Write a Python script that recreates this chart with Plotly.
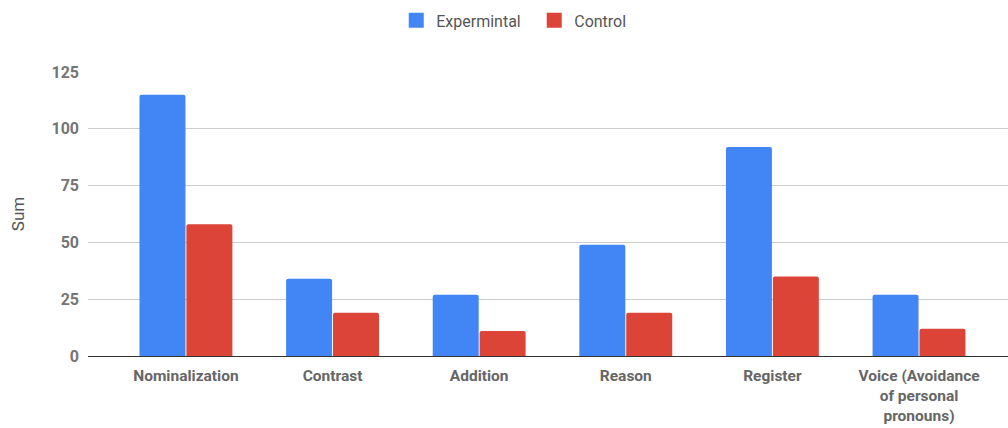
import plotly.graph_objects as go

categories = ["Nominalization", "Contrast", "Addition", "Reason", "Register",
              "Voice (Avoidance<br>of personal<br>pronouns)"]
experimental = [115, 34, 27, 49, 92, 27]
control = [58, 19, 11, 19, 35, 12]
y_ticks = [0, 25, 50, 75, 100, 125]
series = [("Expermintal", experimental, "#4285F4"),
          ("Control", control, "#DB4437")]

fig = go.Figure()
for name, values, color in series:
    fig.add_trace(go.Bar(name=name, x=categories, y=values, showlegend=False,
                         marker=dict(color=color, line=dict(width=0))))
# Legend entries drawn as larger square swatches
for name, values, color in series:
    fig.add_trace(go.Scatter(name=name, x=[None], y=[None], mode="markers",
                             marker=dict(symbol="square", size=15, color=color),
                             showlegend=True))

fig.update_layout(
    width=1008, height=428,
    margin=dict(l=88, r=0, t=72, b=72),
    paper_bgcolor="white", plot_bgcolor="white",
    font=dict(family="Roboto", size=15, color="#757575"),
    barmode="group", bargap=0.36, bargroupgap=0.02, barcornerradius=2,
    legend=dict(orientation="h", xref="container", yref="container",
                x=0.530, y=0.992, xanchor="center", yanchor="top",
                font=dict(size=16, color="#555555"), itemwidth=30,
                entrywidth=93, entrywidthmode="pixels",
                traceorder="normal"),
    xaxis=dict(type="category", range=[-0.668, 5.607],
               showgrid=False, showline=True, linecolor="#333333", linewidth=1,
               ticks="", tickfont=dict(size=15.5, color="#666666", weight="bold"),
               ticklabelstandoff=5),
    yaxis=dict(range=[0, 125], tickvals=y_ticks, showgrid=True,
               gridcolor="#cccccc", gridwidth=1, zeroline=False, ticks="",
               tickfont=dict(size=16, color="#757575", weight="bold"),
               ticklabelstandoff=8,
               title=dict(text="Sum", font=dict(size=17, color="#555555"),
                          standoff=22)),
)

fig.write_html("out.html")
